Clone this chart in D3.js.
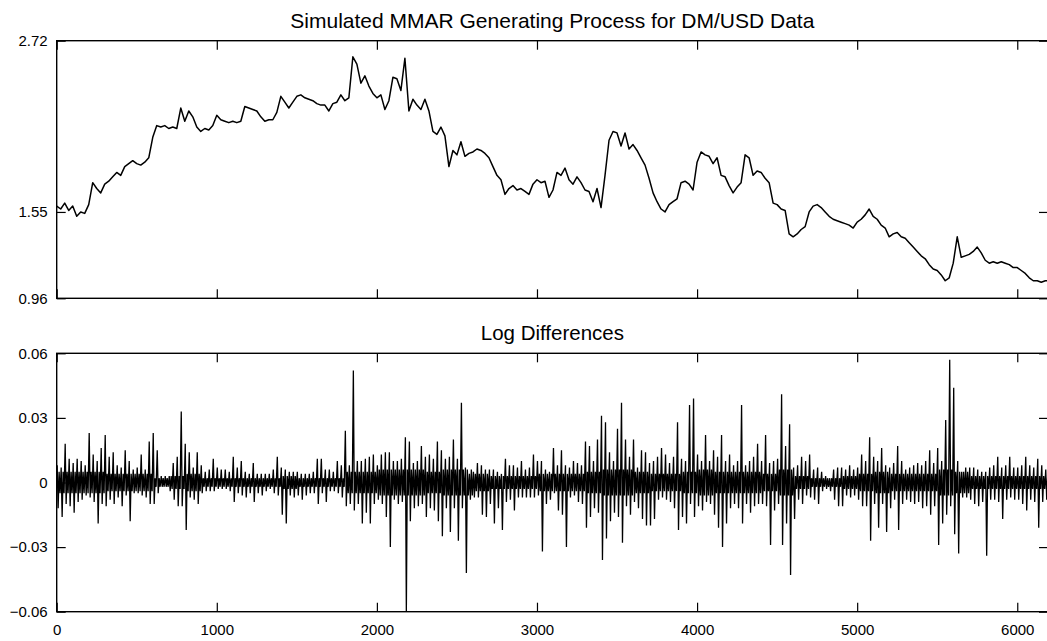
<!DOCTYPE html>
<html>
<head>
<meta charset="utf-8">
<script src="https://cdn.jsdelivr.net/npm/d3@7"></script>
<style>
  body { margin: 0; background: #fff; }
  svg { display: block; }
  text { font-family: "Liberation Sans", Arial, Helvetica, sans-serif; fill: #000; }
</style>
</head>
<body>
<svg id="chart" width="1047" height="641"></svg>
<script>
// Simulated exchange-rate path, one value every 25 steps
const priceStep = 25;
const price = [
  1.59, 1.57, 1.61, 1.56, 1.59, 1.52, 1.55, 1.54, 1.60, 1.75,
  1.71, 1.68, 1.74, 1.76, 1.79, 1.82, 1.80, 1.86, 1.88, 1.90,
  1.88, 1.87, 1.89, 1.92, 2.06, 2.14, 2.13, 2.14, 2.12, 2.13,
  2.12, 2.26, 2.17, 2.24, 2.20, 2.13, 2.10, 2.12, 2.11, 2.14,
  2.21, 2.18, 2.17, 2.16, 2.17, 2.16, 2.17, 2.27, 2.26, 2.25,
  2.24, 2.20, 2.17, 2.18, 2.18, 2.23, 2.34, 2.30, 2.26, 2.30,
  2.34, 2.35, 2.33, 2.32, 2.31, 2.29, 2.28, 2.28, 2.24, 2.29,
  2.30, 2.35, 2.31, 2.33, 2.61, 2.56, 2.43, 2.48, 2.41, 2.36,
  2.33, 2.35, 2.25, 2.31, 2.47, 2.46, 2.38, 2.60, 2.24, 2.32,
  2.28, 2.25, 2.32, 2.24, 2.10, 2.08, 2.13, 2.07, 1.86, 1.97,
  1.94, 2.03, 1.93, 1.95, 1.96, 1.98, 1.97, 1.95, 1.92, 1.86,
  1.80, 1.77, 1.67, 1.71, 1.73, 1.70, 1.71, 1.69, 1.67, 1.74,
  1.77, 1.75, 1.76, 1.65, 1.70, 1.82, 1.80, 1.85, 1.77, 1.74,
  1.79, 1.75, 1.70, 1.69, 1.62, 1.71, 1.58, 1.80, 2.04, 2.10,
  2.09, 2.00, 2.09, 1.98, 2.01, 1.97, 1.92, 1.87, 1.78, 1.68,
  1.62, 1.57, 1.55, 1.60, 1.62, 1.64, 1.75, 1.76, 1.74, 1.70,
  1.89, 1.96, 1.94, 1.93, 1.88, 1.92, 1.80, 1.79, 1.73, 1.68,
  1.72, 1.75, 1.94, 1.92, 1.80, 1.83, 1.82, 1.78, 1.75, 1.61,
  1.60, 1.57, 1.56, 1.40, 1.38, 1.40, 1.43, 1.45, 1.55, 1.59,
  1.60, 1.58, 1.55, 1.52, 1.50, 1.49, 1.48, 1.47, 1.46, 1.44,
  1.48, 1.50, 1.53, 1.57, 1.52, 1.50, 1.46, 1.44, 1.38, 1.40,
  1.41, 1.38, 1.37, 1.34, 1.31, 1.28, 1.25, 1.23, 1.19, 1.16,
  1.15, 1.12, 1.08, 1.10, 1.20, 1.38, 1.24, 1.25, 1.26, 1.28,
  1.31, 1.27, 1.22, 1.20, 1.21, 1.20, 1.21, 1.20, 1.19, 1.17,
  1.17, 1.15, 1.13, 1.10, 1.08, 1.08, 1.07, 1.08, 1.08
];

// Log differences: highest and lowest value in each 25-step window (thousandths)
const diffStep = 25;
const diffHi = [
   8,  7, 18, 11,  9, 11, 10,  8, 23, 13,
  10, 16, 22, 12, 14,  8,  7, 15, 10,  6,
   7, 13,  6, 19, 23, 15,  3,  3,  3,  9,
  12, 33, 18, 14,  7, 14,  8,  5,  6, 11,
   7,  6,  6,  5, 12,  7, 10,  5,  4,  9,
   4,  4,  4,  4,  6, 12,  7,  6,  5,  5,
   5,  4,  4,  4,  5, 11, 11,  6,  6,  5,
  10,  8, 24,  8, 52, 10, 10, 11, 12, 13,
   8, 13, 14, 14, 10, 10, 11, 21, 19,  9,
  10, 17, 12, 13, 11, 19, 15, 11, 12, 20,
  11, 37,  7,  4,  5,  9,  8,  6,  6,  6,
   5,  4, 11,  8,  8,  7, 10,  6,  7, 13,
  10, 10,  6,  5, 16,  8, 15,  8,  7, 10,
   9,  8, 19, 17, 10, 20, 31, 28, 14, 10,
  25, 37, 20, 12, 20,  7, 15, 14,  9, 10,
  12, 16, 13,  9, 12, 28, 11, 10, 36, 39,
  13, 10, 22, 10, 15, 12, 22, 10, 13,  8,
  10, 36,  8, 10, 12, 18, 10, 22,  9, 10,
  11, 41, 17, 27,  7,  8, 12, 10, 13,  6,
   7,  5,  3,  2,  6,  7,  7,  6,  8,  6,
   7, 13, 10, 21, 12, 10, 16,  8,  7,  9,
  17, 10,  6,  7,  8,  9,  8, 10, 15,  9,
  16, 10, 29, 57, 44, 10,  5,  7,  7,  7,
   6,  5,  5,  7,  8, 12,  7,  8, 12,  7,
   7,  8, 12,  8,  7, 11,  8,  6
];
const diffLo = [
  -12, -16, -10, -11, -14,  -9,  -8,  -6,  -7,  -9,
  -19, -10, -11,  -8, -10,  -7, -11,  -6, -18,  -5,
   -5,  -6,  -7, -10, -10,  -5,  -2,  -2,  -4,  -8,
  -11, -11, -22,  -7,  -8, -10,  -5,  -4,  -4,  -4,
   -3,  -3,  -3,  -4,  -9,  -5,  -6,  -7,  -5,  -9,
   -5,  -6,  -4,  -3,  -5,  -6, -15, -19,  -6,  -7,
   -6,  -8,  -6,  -5,  -5, -10,  -5,  -9,  -4,  -4,
   -5,  -7, -11, -10, -13, -10, -19, -14, -19, -10,
   -8, -10, -16, -30,  -8, -10,  -9, -60, -18, -12,
  -11, -10, -16, -12, -13, -18, -25, -12, -23, -12,
  -27, -12, -42,  -8,  -7,  -7, -15, -16, -10, -19,
  -12, -22,  -9,  -8, -13,  -7,  -7,  -7,  -7,  -7,
   -6, -32, -10,  -8,  -5, -13, -15, -30,  -7,  -6,
   -9, -10, -21, -16, -12, -14, -36, -26, -18, -14,
  -16, -28, -11, -15,  -9, -12, -17, -20, -20, -17,
   -8,  -7,  -8,  -9, -12, -22, -16, -19, -10, -16,
  -11, -13,  -9, -10, -15, -21, -30, -19, -12, -10,
  -12, -19, -10, -14, -11, -10, -10, -11, -29, -13,
  -10, -29, -19, -43, -17,  -8, -10,  -6,  -7,  -8,
  -10,  -4,  -3,  -4,  -8, -11, -11,  -6,  -7,  -6,
   -8, -11, -11, -27, -10, -21, -10, -23, -12,  -8,
  -22, -10,  -8,  -9, -10,  -9, -12, -11, -15, -11,
  -29, -19, -15, -11, -24, -33,  -7,  -7,  -8, -10,
  -11,  -9, -34,  -8,  -8,  -9, -17,  -8,  -7,  -8,
   -8, -10, -13,  -8,  -9, -21,  -9,  -8
];
// Typical size of the small moves between the extremes, per 100 steps (thousandths)
const coreStep = 100;
const diffCore = [
  5, 5, 5, 4, 4, 4, 2, 3, 4, 2,
  2, 2, 2, 2, 3, 2, 2, 2, 5, 5,
  6, 6, 6, 5, 6, 6, 4, 3, 3, 3,
  4, 4, 4, 5, 6, 6, 5, 4, 4, 5,
  6, 5, 5, 5, 4, 6, 3, 2, 2, 3,
  4, 5, 4, 4, 4, 6, 5, 3, 3, 3,
  3, 3, 3
];

const timeDomain = [0, 6192];
const timeTicks = [0, 1000, 2000, 3000, 4000, 5000, 6000];
const priceDomain = [0.96, 2.72];
const priceTicks = [0.96, 1.55, 2.72];
const priceTickLabels = ["0.96", "1.55", "2.72"];
const diffDomain = [-0.06, 0.06];
const diffTicks = [-0.06, -0.03, 0, 0.03, 0.06];
const diffTickLabels = ["\u22120.06", "\u22120.03", "0", "0.03", "0.06"];
const titles = ["Simulated MMAR Generating Process for DM/USD Data", "Log Differences"];

// ---- layout ----
const svg = d3.select("#chart");
svg.append("rect").attr("width", 1047).attr("height", 641).attr("fill", "#fff");

const plotLeft = 56.7, plotRight = 1048;
const tick = 9;
const x = d3.scaleLinear().domain(timeDomain).range([plotLeft, plotRight]);

const panels = [
  { top: 40.7, bottom: 298.3, domain: priceDomain, ticks: priceTicks, labels: priceTickLabels,
    title: titles[0], titleY: 28, titleSize: 21, xLabels: false },
  { top: 353.3, bottom: 611.7, domain: diffDomain, ticks: diffTicks, labels: diffTickLabels,
    title: titles[1], titleY: 340, titleSize: 20.5, xLabels: true }
];

panels.forEach((p, k) => {
  p.y = d3.scaleLinear().domain(p.domain).range([p.bottom, p.top]);
  svg.append("clipPath").attr("id", "clip" + k)
    .append("rect").attr("x", plotLeft).attr("y", p.top)
    .attr("width", plotRight - plotLeft).attr("height", p.bottom - p.top);
});

// ---- price path ----
const pricePts = price.map((v, i) => [i * priceStep, v]);
const priceLine = d3.line().x(d => x(d[0])).y(d => panels[0].y(d[1]));
svg.append("path")
  .attr("clip-path", "url(#clip0)")
  .attr("d", priceLine(pricePts))
  .attr("fill", "none").attr("stroke", "#000")
  .attr("stroke-width", 1.5).attr("stroke-linejoin", "round");

// ---- log differences: each window swings to its extremes, then through the small moves ----
const yd = panels[1].y;
const diffPts = [];
diffHi.forEach((h, i) => {
  const t0 = i * diffStep;
  const c = diffCore[Math.floor(t0 / coreStep)];
  diffPts.push([t0 + 3, h / 1000]);
  diffPts.push([t0 + 9, diffLo[i] / 1000]);
  diffPts.push([t0 + 15, c / 1000]);
  diffPts.push([t0 + 21, -c / 1000]);
});
const diffLine = d3.line().x(d => x(d[0])).y(d => yd(d[1]));
svg.append("path")
  .attr("clip-path", "url(#clip1)")
  .attr("d", diffLine(diffPts))
  .attr("fill", "none").attr("stroke", "#000")
  .attr("stroke-width", 1.3).attr("stroke-linejoin", "miter");

// ---- axes and frames ----
panels.forEach(p => {
  const fontSize = 15;
  const bottomAxis = d3.axisBottom(x).tickValues(timeTicks).tickSizeInner(-tick).tickSizeOuter(0)
    .tickPadding(13).tickFormat(p.xLabels ? d3.format("d") : () => "");
  const topAxis = d3.axisTop(x).tickValues(timeTicks).tickSizeInner(-tick).tickSizeOuter(0).tickFormat(() => "");
  const leftAxis = d3.axisLeft(p.y).tickValues(p.ticks).tickSizeInner(-tick).tickSizeOuter(0)
    .tickPadding(9).tickFormat((d, i) => p.labels[i]);
  const rightAxis = d3.axisRight(p.y).tickValues(p.ticks).tickSizeInner(-tick).tickSizeOuter(0).tickFormat(() => "");

  const groups = [
    svg.append("g").attr("transform", `translate(0,${p.bottom})`).call(bottomAxis),
    svg.append("g").attr("transform", `translate(0,${p.top})`).call(topAxis),
    svg.append("g").attr("transform", `translate(${plotLeft},0)`).call(leftAxis),
    svg.append("g").attr("transform", `translate(${plotRight},0)`).call(rightAxis)
  ];
  groups.forEach(g => {
    g.select(".domain").remove();
    g.selectAll("line").attr("stroke", "#000").attr("stroke-width", 1.2);
    g.selectAll("text").attr("font-size", fontSize).attr("font-family", null).attr("fill", "#000");
  });

  svg.append("rect")
    .attr("x", plotLeft).attr("y", p.top)
    .attr("width", plotRight - plotLeft).attr("height", p.bottom - p.top)
    .attr("fill", "none").attr("stroke", "#000").attr("stroke-width", 1.4);

  svg.append("text")
    .attr("x", (plotLeft + plotRight) / 2).attr("y", p.titleY)
    .attr("text-anchor", "middle").attr("font-size", p.titleSize)
    .text(p.title);
});
</script>
</body>
</html>
